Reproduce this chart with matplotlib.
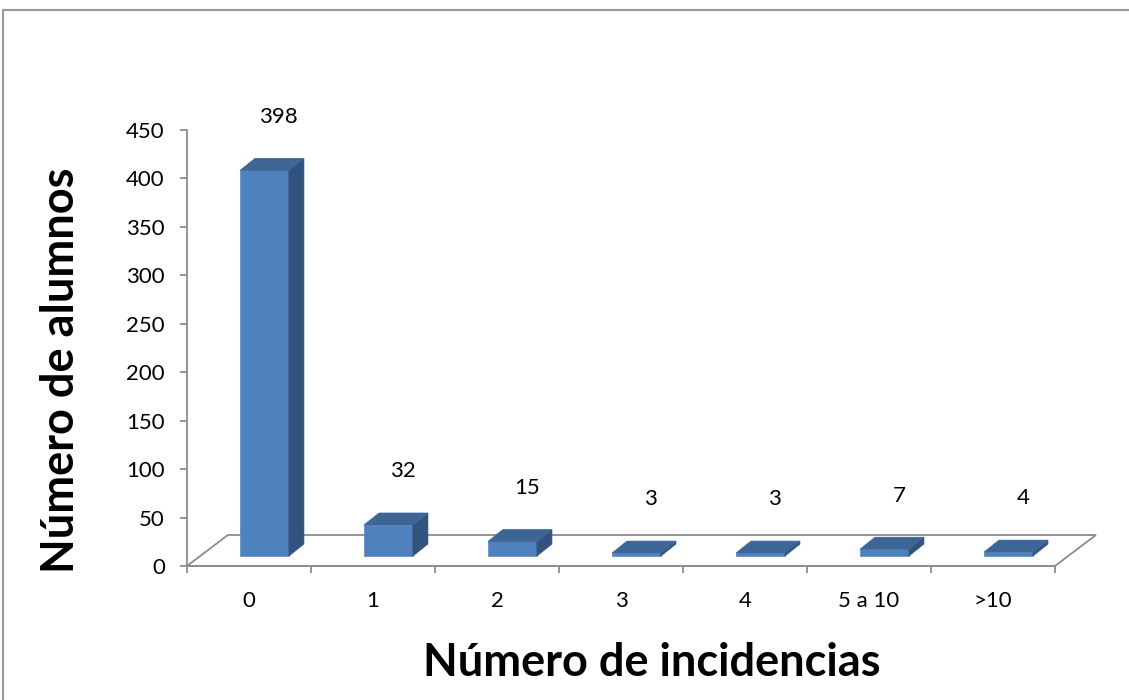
import matplotlib.pyplot as plt
from matplotlib.patches import Polygon
from matplotlib.lines import Line2D

# data
categories = ["0", "1", "2", "3", "4", "5 a 10", ">10"]
alumnos = [398, 32, 15, 3, 3, 7, 4]
y_ticks = [0, 50, 100, 150, 200, 250, 300, 350, 400, 450]

plt.rcParams['font.family'] = ['Lato', 'DejaVu Sans']

W, H = 1129, 700
fig = plt.figure(figsize=(W / 100, H / 100), dpi=100)

# axes placed in pixel terms: x -0.5..6.88 -> px 185..1100, y 0..450 -> px 566..130
ax = fig.add_axes([187 / W, (H - 566) / H, (1100 - 187) / W, 436 / H])
ax.set_xlim(-0.5, (1100 - 249) / 124)
ax.set_ylim(0, 450)

grey = "#8c8c8c"
front = "#4f81bd"
side = "#31537e"
top = "#3d6596"

# floor (3d look)
fdx, fdy = 0.33, 32.0
floor = Polygon([(-0.5, 0), (6.5, 0), (6.5 + fdx, fdy), (-0.5 + fdx, fdy)],
                closed=True, facecolor="white", edgecolor=grey, lw=1.3, clip_on=False, zorder=1)
ax.add_patch(floor)

# bars
base = 10.3
bw = 0.395
x_off = -0.073
dx, dy = 0.121, 12.4
for i, v in enumerate(alumnos):
    x0 = i + x_off
    x1 = x0 + bw
    ax.add_patch(Polygon([(x0, base), (x1, base), (x1, base + v), (x0, base + v)],
                         facecolor=front, edgecolor="#5a8ac6", lw=0.5, clip_on=False, zorder=3))
    ax.add_patch(Polygon([(x1, base), (x1 + dx, base + dy), (x1 + dx, base + v + dy), (x1, base + v)],
                         facecolor=side, edgecolor=side, lw=0.5, clip_on=False, zorder=3))
    ax.add_patch(Polygon([(x0, base + v), (x1, base + v), (x1 + dx, base + v + dy), (x0 + dx, base + v + dy)],
                         facecolor=top, edgecolor=top, lw=0.5, clip_on=False, zorder=3))
    ax.text(i + 0.24, base + v + dy + 43, str(v), ha="center", va="center",
            fontsize=16, color="black", zorder=4)

# axes lines and ticks
for s in ["top", "right"]:
    ax.spines[s].set_visible(False)
ax.spines["left"].set_color(grey)
ax.spines["left"].set_linewidth(1.3)
ax.spines["left"].set_bounds(0, 450)
ax.spines["bottom"].set_color(grey)
ax.spines["bottom"].set_linewidth(1.3)
ax.spines["bottom"].set_bounds(-0.5, 6.5)
ax.spines["bottom"].set_zorder(2)

ax.set_yticks(y_ticks)
ax.tick_params(axis="y", direction="out", length=5, width=1.3, color=grey,
               labelsize=16, pad=11)
ax.set_xticks(range(len(categories)))
ax.set_xticklabels(categories)
ax.set_xticks([i - 0.5 for i in range(len(categories) + 1)], minor=True)
ax.tick_params(axis="x", which="major", length=0, labelsize=16, pad=18)
ax.tick_params(axis="x", which="minor", direction="out", length=5, width=1.3, color=grey)

fig.text(652 / W, 1 - 663 / H, "Número de incidencias", ha="center", va="center",
         fontsize=32.5, fontweight="bold")
fig.text(61 / W, 1 - 370 / H, "Número de alumnos", ha="center", va="center",
         rotation=90, fontsize=32.5, fontweight="bold")

# chart area border (top and left edges visible)
fig.add_artist(Line2D([3 / W, 3 / W], [0, 1 - 10 / H], transform=fig.transFigure,
                      color="#999999", lw=1.5))
fig.add_artist(Line2D([3 / W, 1], [1 - 10 / H, 1 - 10 / H], transform=fig.transFigure,
                      color="#999999", lw=1.5))

plt.savefig("out.png", dpi=100)
